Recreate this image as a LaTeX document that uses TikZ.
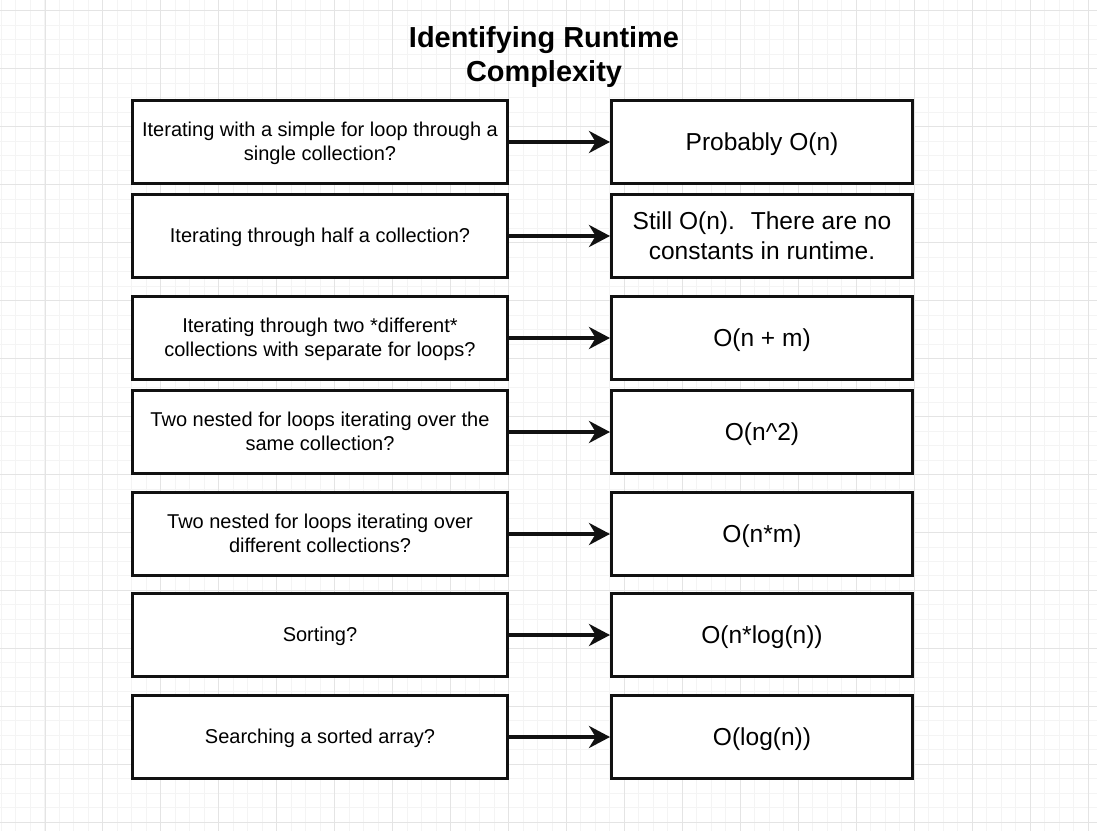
\documentclass[tikz,border=0pt]{standalone}
\usepackage{fontspec}
\setmainfont{Liberation Sans}
\usetikzlibrary{arrows.meta}
\definecolor{gridminor}{HTML}{F4F4F4}
\definecolor{gridmajor}{HTML}{E4E4E4}
\definecolor{edge}{HTML}{111111}
% strut with the height and depth of a browser line box
\newcommand\bs{\rule[-0.253em]{0pt}{1.2em}}
\tikzset{
  qbox/.style={draw=edge, line width=2.25pt, fill=white, minimum width=281.25pt,
    minimum height=62.25pt, inner sep=0pt, align=center,
    font=\fontsize{15}{18}\selectfont},
  abox/.style={qbox, minimum width=225.75pt, font=\fontsize{18.4}{21.75}\selectfont},
  link/.style={line width=3pt, draw=edge, -{Stealth[length=15.75pt,width=16.5pt,inset=5pt]}}
}
\begin{document}
\begin{tikzpicture}[x=0.75pt,y=-0.75pt]
\fill[white] (0,0) rectangle (1097,831);
\useasboundingbox (0,0) rectangle (1097,831);
% grid
\foreach \i in {0,...,75} \draw[gridminor,line width=0.75pt] (1.5+14.487*\i,0) -- ++(0,831);
\foreach \j in {0,...,56} \draw[gridminor,line width=0.75pt] (0,11+14.487*\j) -- ++(1097,0);
\foreach \i in {0,...,18} \draw[gridmajor,line width=0.75pt] (45+57.95*\i,0) -- ++(0,831);
\foreach \j in {0,...,14} \draw[gridmajor,line width=0.75pt] (0,11+57.95*\j) -- ++(1097,0);

\node[font=\bfseries\fontsize{21.7}{25.5}\selectfont, align=center] (title) at (544,57) {Identifying Runtime\\Complexity};

% questions
\node[qbox] (q1) at (320,142) {\bs Iterating with a simple for loop through a\\single collection?\bs};
\node[qbox] (q2) at (320,236) {\bs Iterating through half a collection?\bs};
\node[qbox] (q3) at (320,338) {\bs Iterating through two *different*\\collections with separate for loops?\bs};
\node[qbox] (q4) at (320,432) {\bs Two nested for loops iterating over the\\same collection?\bs};
\node[qbox] (q5) at (320,534) {\bs Two nested for loops iterating over\\different collections?\bs};
\node[qbox] (q6) at (320,635) {\bs Sorting?\bs};
\node[qbox] (q7) at (320,737) {\bs Searching a sorted array?\bs};

% answers
\node[abox] (a1) at (762,142) {\bs Probably O(n)\bs};
\node[abox] (a2) at (762,236) {\bs Still O(n).~ There are no\\constants in runtime.\bs};
\node[abox] (a3) at (762,338) {\bs O(n + m)\bs};
\node[abox] (a4) at (762,432) {\bs O(n\textasciicircum 2)\bs};
\node[abox] (a5) at (762,534) {\bs O(n*m)\bs};
\node[abox] (a6) at (762,635) {\bs O(n*log(n))\bs};
\node[abox] (a7) at (762,737) {\bs O(log(n))\bs};

\foreach \k in {1,...,7}
  \draw[link] (q\k) -- (a\k);
\end{tikzpicture}
\end{document}
